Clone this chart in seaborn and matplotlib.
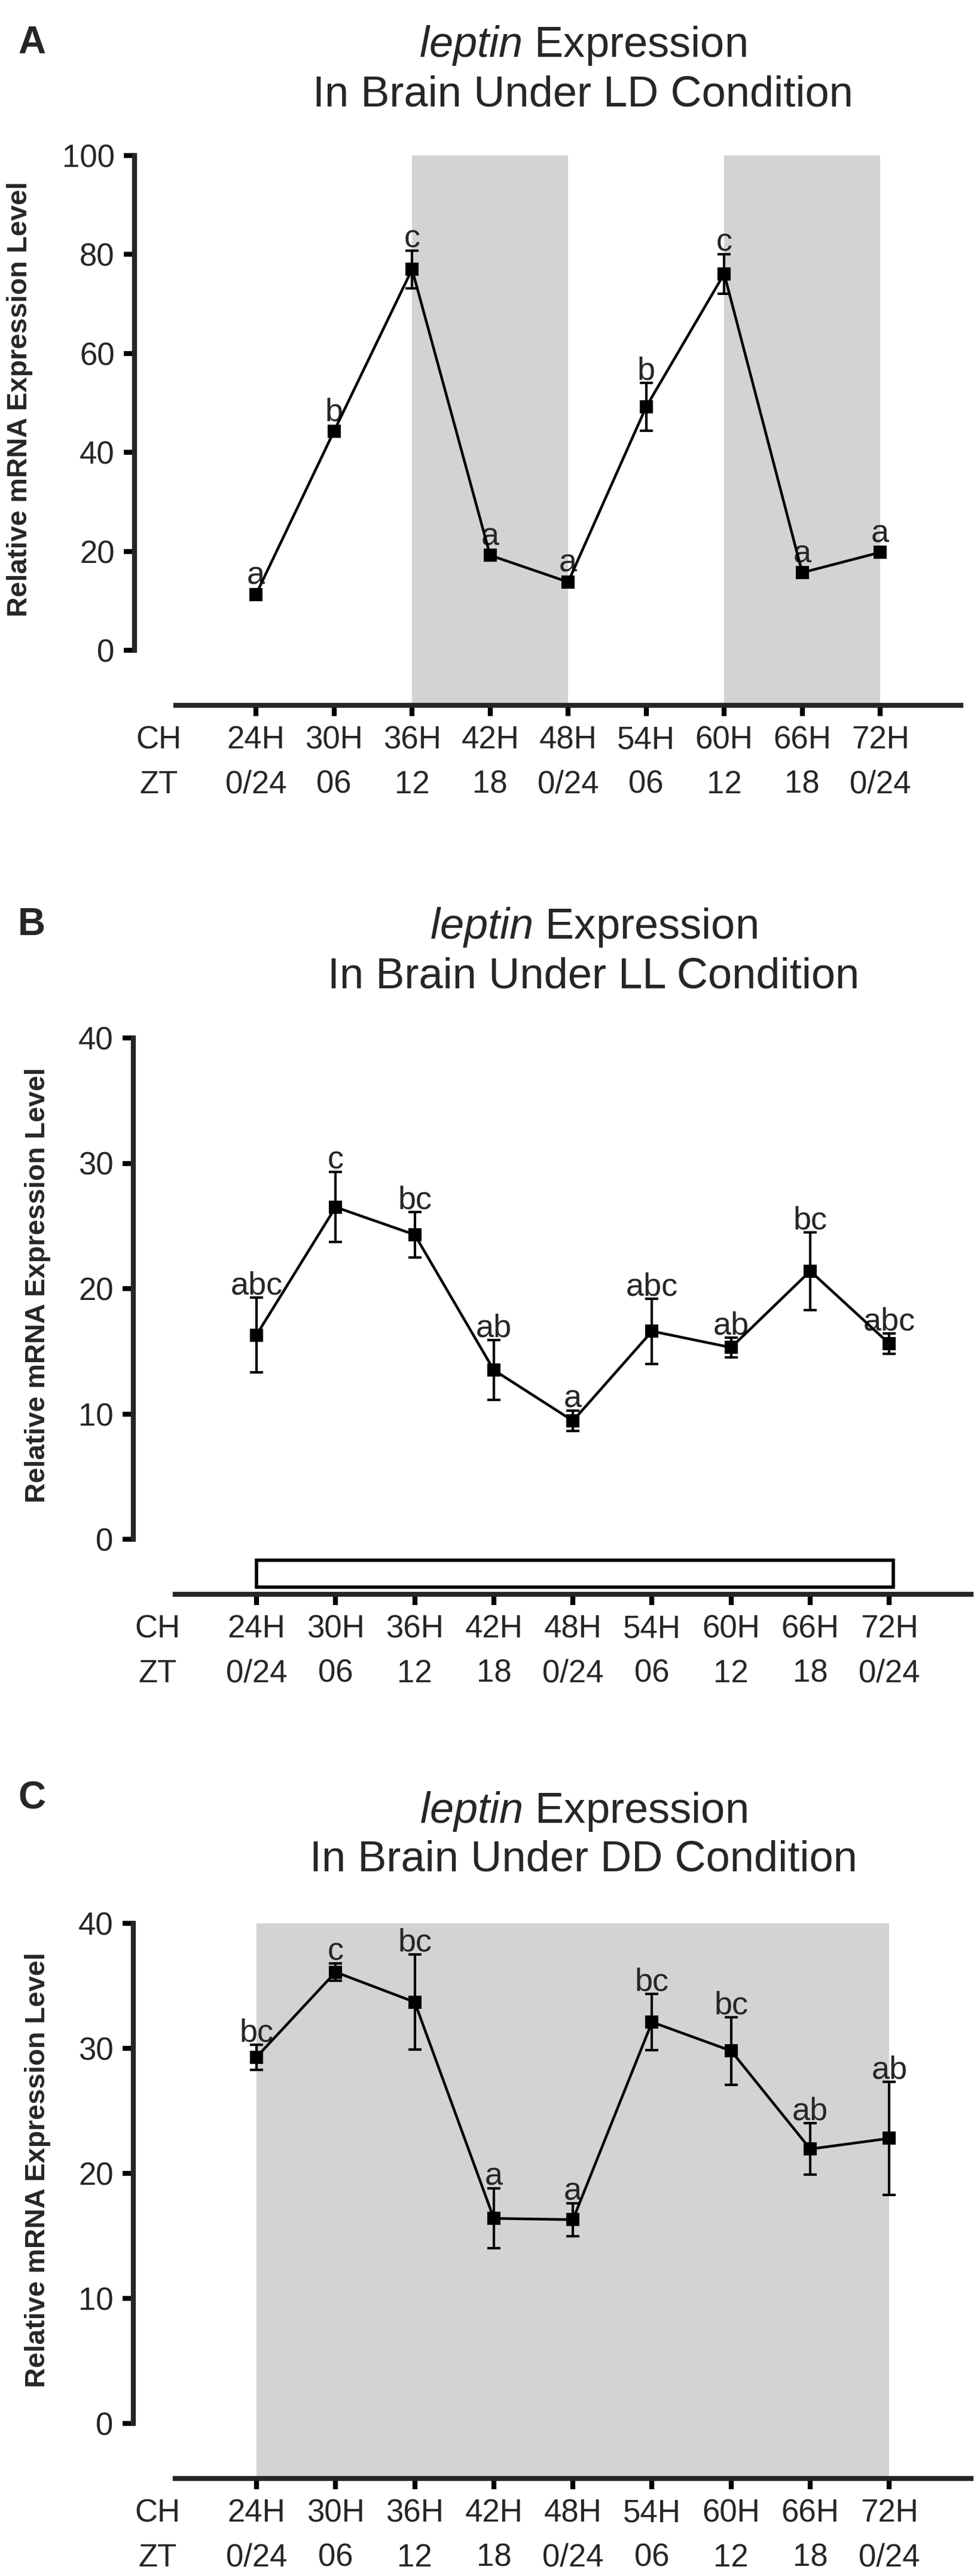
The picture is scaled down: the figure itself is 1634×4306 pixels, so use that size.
import numpy as np
import pandas as pd
import seaborn as sns
import matplotlib.pyplot as plt
from matplotlib.patches import Rectangle

# data
ch_labels = ['24H', '30H', '36H', '42H', '48H', '54H', '60H', '66H', '72H']
zt_labels = ['0/24', '06', '12', '18', '0/24', '06', '12', '18', '0/24']

ld_mean = [11.3, 44.3, 77.0, 19.2, 13.8, 49.2, 76.1, 15.7, 19.8]
ld_sem = [1.0, 1.0, 3.8, 1.0, 1.0, 4.8, 4.0, 1.0, 1.0]
ld_letters = ['a', 'b', 'c', 'a', 'a', 'b', 'c', 'a', 'a']
ld_yticks = [0, 20, 40, 60, 80, 100]

ll_mean = [16.3, 26.5, 24.3, 13.5, 9.45, 16.6, 15.3, 21.4, 15.6]
ll_sem = [3.0, 2.8, 1.8, 2.4, 0.8, 2.6, 0.8, 3.1, 0.8]
ll_letters = ['abc', 'c', 'bc', 'ab', 'a', 'abc', 'ab', 'bc', 'abc']
ll_yticks = [0, 10, 20, 30, 40]

dd_mean = [29.3, 36.1, 33.7, 16.4, 16.3, 32.1, 29.8, 21.95, 22.8]
dd_sem = [1.0, 0.7, 3.8, 2.4, 1.3, 2.25, 2.7, 2.05, 4.5]
dd_letters = ['bc', 'c', 'bc', 'a', 'a', 'bc', 'bc', 'ab', 'ab']
dd_yticks = [0, 10, 20, 30, 40]

sns.set_style('ticks')
plt.rcParams['font.family'] = ['Liberation Sans', 'DejaVu Sans']
plt.rcParams['mathtext.fontset'] = 'custom'
plt.rcParams['mathtext.rm'] = 'Liberation Sans'
plt.rcParams['mathtext.it'] = 'Liberation Sans:italic'

W, H = 1634, 4306
DPI = 100
XLO, XHI = -1.557, 9.1
GRAY = '#d3d3d3'

fig = plt.figure(figsize=(W / DPI, H / DPI), dpi=DPI)

# layout in pixels (top based)
panels = [
    dict(letter='A', cond='LD', mean=ld_mean, sem=ld_sem, letters=ld_letters, yticks=ld_yticks,
         spine_x=225, spacing=130.5, ytop=260, y0=1087, axis=1179, lab_x=55, lab_y=50.8,
         let_y=89, title_x=975, title_y=(95, 178)),
    dict(letter='B', cond='LL', mean=ll_mean, sem=ll_sem, letters=ll_letters, yticks=ll_yticks,
         spine_x=223, spacing=132.3, ytop=1735, y0=2573, axis=2665, lab_x=85, lab_y=20.3,
         let_y=1563, title_x=993, title_y=(1569, 1652)),
    dict(letter='C', cond='DD', mean=dd_mean, sem=dd_sem, letters=dd_letters, yticks=dd_yticks,
         spine_x=223, spacing=132.3, ytop=3215, y0=4051, axis=4143, lab_x=85, lab_y=20.3,
         let_y=3024, title_x=976, title_y=(3047, 3128)),
]

x = np.arange(len(ch_labels))

for p in panels:
    ymax = p['yticks'][-1]
    ppu = (p['y0'] - p['ytop']) / ymax          # px per data unit
    ylo = -(p['axis'] - p['y0']) / ppu
    yhi = ymax + 14 / ppu
    width = (XHI - XLO) * p['spacing']
    top_px = p['ytop'] - 14
    ax = fig.add_axes([p['spine_x'] / W, 1 - p['axis'] / H, width / W, (p['axis'] - top_px) / H])
    ax.set_xlim(XLO, XHI)
    ax.set_ylim(ylo, yhi)
    ax.patch.set_visible(False)

    # light / dark bars
    if p['cond'] == 'LD':
        for a, b in [(2, 4), (6, 8)]:
            ax.fill_between([a, b], ylo, ymax, color=GRAY, lw=0, zorder=0)
    elif p['cond'] == 'DD':
        ax.fill_between([0, 8], ylo, ymax, color=GRAY, lw=0, zorder=0)
    else:
        ax.add_patch(Rectangle((0, -3.82), 8.05, 2.15, facecolor='white', edgecolor='black',
                               lw=4, clip_on=False, zorder=2))

    df = pd.DataFrame({'t': x, 'level': p['mean']})
    ax.errorbar(x, p['mean'], yerr=p['sem'], fmt='none', ecolor='black', elinewidth=3,
                capsize=8, capthick=3, zorder=3)
    sns.lineplot(data=df, x='t', y='level', ax=ax, color='black', lw=3.2, marker='s',
                 markersize=15, markeredgewidth=1.5, markeredgecolor='black', zorder=4)

    # significance letters just above the error bar (or the marker when the bar is hidden)
    ppt = ppu * 72 / DPI
    for xi, m, s, t in zip(x, p['mean'], p['sem'], p['letters']):
        off = max(s * ppt, 8.3) + 4
        ax.annotate(t, (xi, m), xytext=(0, off), textcoords='offset points',
                    ha='center', va='baseline', fontsize=39, annotation_clip=False)

    for side in ['top', 'right']:
        ax.spines[side].set_visible(False)
    ax.spines['left'].set_bounds(0, ymax)
    ax.spines['bottom'].set_bounds(-1.03, 9.03)
    for side in ['left', 'bottom']:
        ax.spines[side].set_linewidth(6)
    ax.set_yticks(p['yticks'])
    ax.set_yticklabels([str(v) for v in p['yticks']])
    ax.set_xticks([-1.25] + list(x))
    ax.set_xticklabels(['CH\nZT'] + [f'{c}\n{z}' for c, z in zip(ch_labels, zt_labels)],
                       linespacing=1.63)
    ax.xaxis.get_major_ticks()[0].tick1line.set_visible(False)
    ax.tick_params(axis='both', length=13, width=6, labelsize=38, color='black')
    ax.tick_params(axis='y', pad=11)
    ax.tick_params(axis='x', pad=11)
    ax.set_xlabel('')
    ax.set_ylabel('Relative mRNA Expression Level', fontsize=33.5, fontweight='bold')
    ax.yaxis.set_label_coords((p['lab_x'] - p['spine_x']) / width, (p['lab_y'] - ylo) / (yhi - ylo))

    fig.text(30 / W, 1 - p['let_y'] / H, p['letter'], fontsize=46, fontweight='bold',
             ha='left', va='baseline')
    fig.text(p['title_x'] / W, 1 - p['title_y'][0] / H, r'$\mathit{leptin}$ Expression',
             fontsize=52, ha='center', va='baseline')
    fig.text(p['title_x'] / W, 1 - p['title_y'][1] / H, f'In Brain Under {p["cond"]} Condition',
             fontsize=52, ha='center', va='baseline')

fig.savefig('out.png', dpi=DPI)
